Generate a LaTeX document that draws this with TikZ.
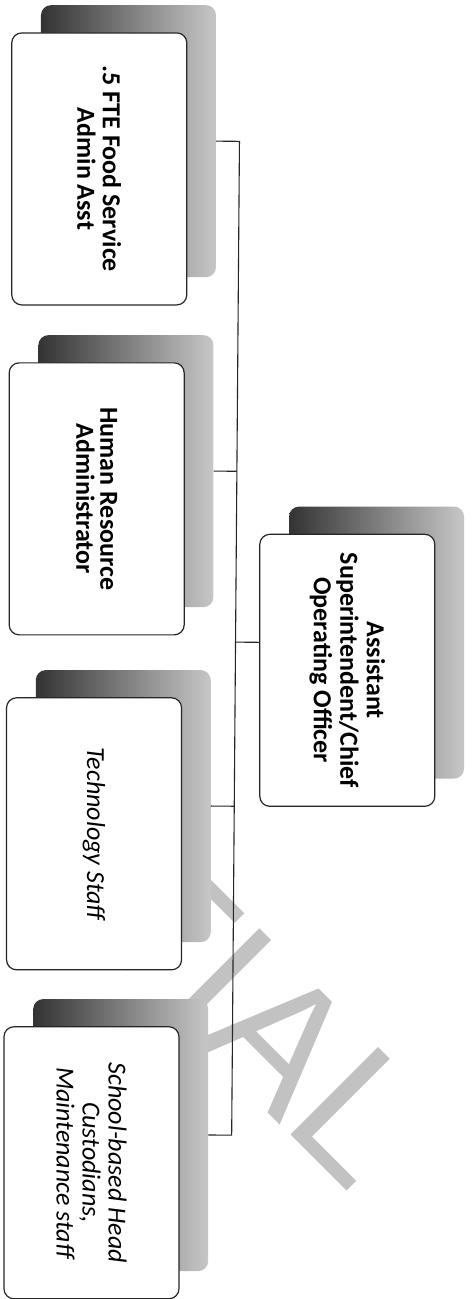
\documentclass[tikz,border=0pt]{standalone}
\usepackage{fontspec}
\setmainfont{Carlito}
\newfontfamily\wmfont{Liberation Sans}
\begin{document}
\begin{tikzpicture}[x=1pt,y=-1pt,
  box/.style={draw=black!85, line width=1.2pt, fill=white, rounded corners=10pt,
    minimum width=175pt, minimum height=272pt, inner sep=0pt},
  shbox/.style={rounded corners=10pt, minimum width=175pt, minimum height=272pt,
    inner sep=0pt, left color=black!80, right color=black!22, draw=none},
  lbl/.style={rotate=-90, align=center, text=black},
  conn/.style={draw=black!85, line width=1.1pt},
  wm/.style={rotate=-45, anchor=base west, inner sep=0pt, text=black!24,
    font=\wmfont\fontsize{180}{180}\selectfont}]
\useasboundingbox (0,0) rectangle (474,1299);
\fill[white] (0,0) rectangle (474,1299);
% watermark letters
\node[wm] (wmT) at (82.4,926.7) {T};
\node[wm] (wmI) at (160.2,1004.5) {I};
\node[wm] (wmA) at (195.5,1039.9) {A};
\node[wm] (wmL) at (280.4,1124.8) {L};
\begin{scope}[rotate around={-0.45:(237,650)}]
% shadows
\node[shbox] (s1) at (124.5,142) {};
\node[shbox] (s2) at (124.5,472) {};
\node[shbox] (s3) at (124.5,807) {};
\node[shbox] (s4) at (124.5,1136) {};
\node[shbox] (sr) at (376.5,641.5) {};
% connectors
\coordinate (trunk) at (235.5,0);
\draw[conn] (s1.east) -- (s1.east -| trunk) -- (s4.east -| trunk) -- (s4.east);
\draw[conn] (s2.east) -- (s2.east -| trunk);
\draw[conn] (s3.east) -- (s3.east -| trunk);
\draw[conn] (sr.west -| trunk) -- ([xshift=-29pt]sr.west);
% boxes
\node[box] (c1) at ([shift={(-29,28)}]s1.center) {};
\node[box] (c2) at ([shift={(-29,28)}]s2.center) {};
\node[box] (c3) at ([shift={(-29,28)}]s3.center) {};
\node[box] (c4) at ([shift={(-29,28)}]s4.center) {};
\node[box] (root) at ([shift={(-29,28)}]sr.center) {};
% labels
\node[lbl, font=\bfseries\fontsize{26}{25.5}\selectfont] (t1) at (c1) {.5 FTE Food Service\\Admin Asst};
\node[lbl, font=\bfseries\fontsize{26}{24}\selectfont] (t2) at (c2) {Human Resource\\Administrator};
\node[lbl, font=\itshape\fontsize{26}{25.5}\selectfont] (t3) at (c3) {Technology Staff};
\node[lbl, font=\itshape\fontsize{26}{26}\selectfont] (t4) at (c4) {School-based Head\\Custodians,\\Maintenance staff};
\node[lbl, font=\bfseries\fontsize{26}{26.5}\selectfont] (tr) at (root) {Assistant\\Superintendent/Chief\\Operating Officer};
\end{scope}
\end{tikzpicture}
\end{document}
